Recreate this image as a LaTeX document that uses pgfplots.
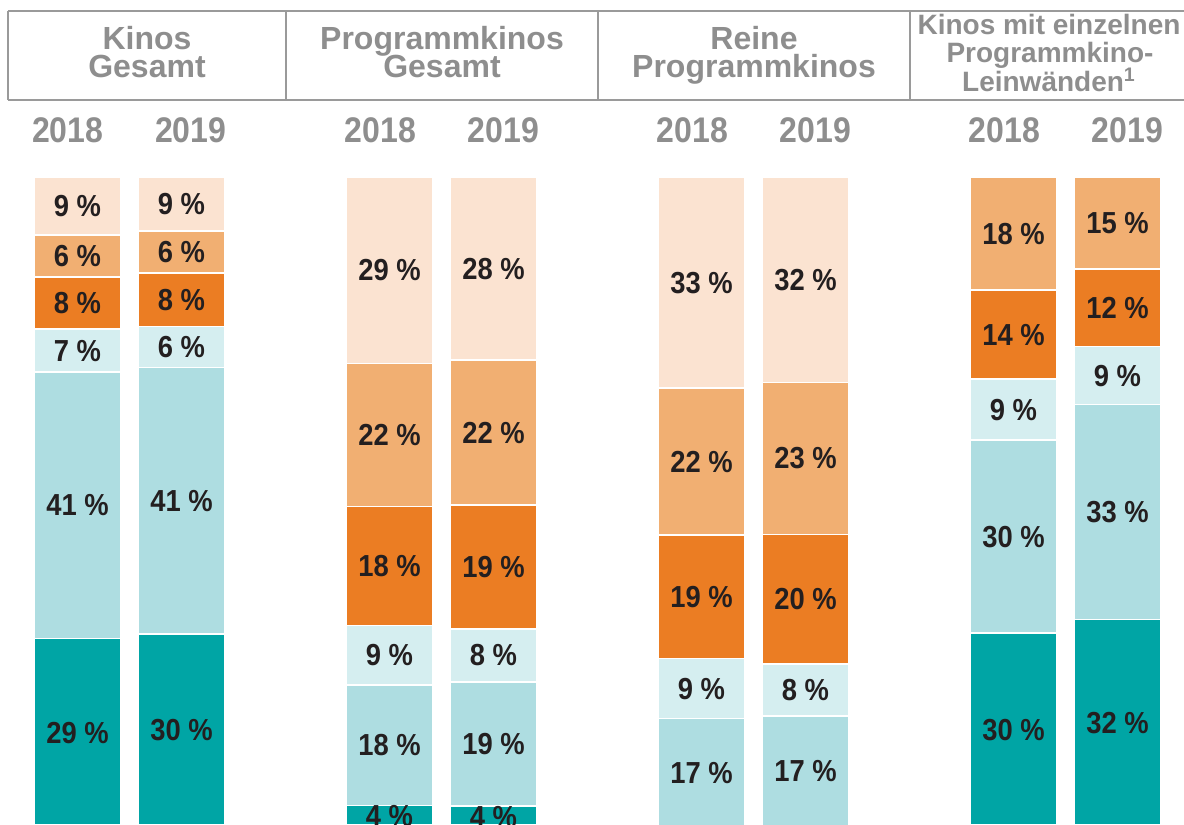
\documentclass[border=0pt]{standalone}
\usepackage{fontspec}
\setmainfont{Liberation Sans}
\newfontfamily\numfont[FakeStretch=0.9]{Liberation Sans}
\usepackage{pgfplots}
\usepackage{pgfplotstable}
\pgfplotsset{compat=1.18}
\definecolor{cA}{HTML}{00A5A5}
\definecolor{cB}{HTML}{AEDDE1}
\definecolor{cC}{HTML}{D5EEF0}
\definecolor{cD}{HTML}{EB7D23}
\definecolor{cE}{HTML}{F1AF72}
\definecolor{cF}{HTML}{FBE3D1}
\definecolor{labc}{HTML}{231F20}
\definecolor{headc}{HTML}{8E8E8E}
\definecolor{linec}{HTML}{9A9A9A}

% segment heights (per cent), bottom to top
\pgfplotstableread{
x y
0 29.0
1 29.7
3 3.3
4 3.2
6 0
7 0
9 29.8
10 31.9
}\tabA
\pgfplotstableread{
x y
0 41.0
1 41.0
3 18.5
4 19.1
6 16.7
7 17.1
9 29.7
10 33.1
}\tabB
\pgfplotstableread{
x y
0 6.6
1 6.3
3 9.2
4 8.2
6 9.2
7 8.0
9 9.4
10 8.9
}\tabC
\pgfplotstableread{
x y
0 8.0
1 8.2
3 18.3
4 19.0
6 19.0
7 19.9
9 13.7
10 11.9
}\tabD
\pgfplotstableread{
x y
0 6.5
1 6.5
3 22.0
4 22.3
6 22.6
7 23.4
9 17.4
10 14.2
}\tabE
\pgfplotstableread{
x y
0 8.9
1 8.3
3 28.7
4 28.2
6 32.5
7 31.6
9 0
10 0
}\tabF
% value labels: x, middle of the segment, printed value
\pgfplotstableread{
x mid lab
0 14.5 29
0 49.5 41
0 73.3 7
0 80.6 8
0 87.85 6
0 95.55 9
1 14.85 30
1 50.2 41
1 73.85 6
1 81.1 8
1 88.45 6
1 95.85 9
3 1.65 4
3 12.55 18
3 26.4 9
3 40.15 18
3 60.3 22
3 85.65 29
4 1.6 4
4 12.75 19
4 26.4 8
4 40.0 19
4 60.65 22
4 85.9 28
6 8.35 17
6 21.3 9
6 35.4 19
6 56.2 22
6 83.75 33
7 8.55 17
7 21.1 8
7 35.05 20
7 56.7 23
7 84.2 32
9 14.9 30
9 44.65 30
9 64.2 9
9 75.75 14
9 91.3 18
10 15.95 32
10 48.45 33
10 69.45 9
10 79.85 12
10 92.9 15
}\tabL

\pgfplotsset{frame/.style={
  scale only axis, width=592pt, height=412.5pt,
  xmin=-0.74519, xmax=10.6394, ymin=0.3077, ymax=127.2308,
  hide axis}}

\begin{document}
\begin{tikzpicture}
\begin{axis}[frame, ybar stacked, bar width=43.4pt]
\addplot[fill=cA, draw=white, line width=0.8pt] table[x=x,y=y]{\tabA};
\addplot[fill=cB, draw=white, line width=0.8pt] table[x=x,y=y]{\tabB};
\addplot[fill=cC, draw=white, line width=0.8pt] table[x=x,y=y]{\tabC};
\addplot[fill=cD, draw=white, line width=0.8pt] table[x=x,y=y]{\tabD};
\addplot[fill=cE, draw=white, line width=0.8pt] table[x=x,y=y]{\tabE};
\addplot[fill=cF, draw=white, line width=0.8pt] table[x=x,y=y]{\tabF};
\end{axis}
\begin{axis}[frame]
\addplot[draw=none, mark=none, point meta=explicit symbolic,
  nodes near coords={\pgfplotspointmeta\ \%},
  every node near coord/.append style={anchor=center, inner sep=0pt, text=labc,
     font=\numfont\bfseries\fontsize{15.2}{16}\selectfont}]
  table[x=x,y=mid,meta=lab]{\tabL};
\end{axis}
\begin{scope}[x=0.5pt, y=-0.5pt, shift={(0pt,412.5pt)}]
  \draw[linec, line width=1pt] (8,11) -- (1184,11);
  \draw[linec, line width=1pt] (8,100) -- (1184,100);
  \foreach \xx in {8,286,598,910} \draw[linec, line width=1pt] (\xx,11) -- (\xx,100);
  \begin{scope}[every node/.style={inner sep=0pt, anchor=base, text=headc, font=\bfseries\fontsize{16}{16}\selectfont}]
    \node at (147,50) {Kinos};
    \node at (147,78) {Gesamt};
    \node at (442,50) {Programmkinos};
    \node at (442,78) {Gesamt};
    \node at (754,50) {Reine};
    \node at (754,78) {Programmkinos};
  \end{scope}
  \begin{scope}[every node/.style={inner sep=0pt, anchor=base, text=headc, font=\bfseries\fontsize{14}{14}\selectfont}]
    \node at (1049,35) {Kinos mit einzelnen};
    \node at (1050,63) {Programmkino-};
    \node at (1049,92) {Leinwänden\textsuperscript{1}};
  \end{scope}
  \begin{scope}[every node/.style={inner sep=0pt, anchor=base, text=headc, font=\numfont\bfseries\fontsize{17.8}{18}\selectfont}]
    \foreach \cx/\yr in {67.75/2018, 190.75/2019, 380.5/2018, 503.5/2019, 692.5/2018, 815.5/2019, 1004.5/2018, 1127.5/2019}
      \node at (\cx,143) {\yr};
  \end{scope}
\end{scope}
\pgfresetboundingbox
\path[use as bounding box] (0,0) rectangle (592pt,412.5pt);
\end{tikzpicture}
\end{document}
